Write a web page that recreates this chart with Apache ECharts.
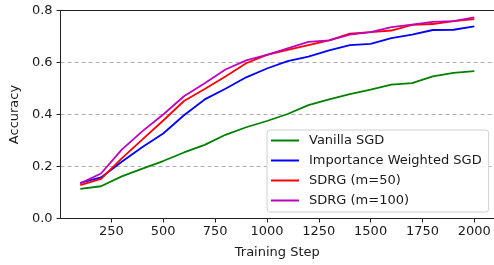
<!DOCTYPE html>
<html>
<head>
<meta charset="utf-8">
<script src="https://cdn.jsdelivr.net/npm/echarts@6/dist/echarts.min.js"></script>
<style>
  html, body { margin: 0; padding: 0; background: #fff; }
  #chart { width: 494px; height: 265px; }
</style>
</head>
<body>
<div id="chart"></div>
<script>
const steps = [100, 200, 300, 400, 500, 600, 700, 800, 900, 1000,
  1100, 1200, 1300, 1400, 1500, 1600, 1700, 1800, 1900, 2000]

const vanillaSgd = [0.114, 0.124, 0.162, 0.192, 0.221, 0.254, 0.283, 0.322, 0.351, 0.375,
  0.402, 0.436, 0.458, 0.478, 0.496, 0.515, 0.521, 0.547, 0.56, 0.567]
const importanceSgd = [0.137, 0.158, 0.218, 0.275, 0.327, 0.397, 0.458, 0.499, 0.543, 0.577,
  0.605, 0.623, 0.647, 0.667, 0.672, 0.694, 0.707, 0.725, 0.726, 0.739]
const sdrg50 = [0.128, 0.152, 0.231, 0.304, 0.377, 0.452, 0.498, 0.546, 0.597, 0.629,
  0.649, 0.667, 0.685, 0.711, 0.717, 0.723, 0.745, 0.748, 0.759, 0.767]
const sdrg100 = [0.135, 0.173, 0.265, 0.336, 0.4, 0.47, 0.52, 0.573, 0.608, 0.629,
  0.654, 0.679, 0.685, 0.707, 0.717, 0.736, 0.746, 0.756, 0.759, 0.774]

const xTicks = [250, 500, 750, 1000, 1250, 1500, 1750, 2000]

const seriesDefs = [
  { name: 'Vanilla SGD', data: vanillaSgd, color: '#008000' },
  { name: 'Importance Weighted SGD', data: importanceSgd, color: '#0000ff' },
  { name: 'SDRG (m=50)', data: sdrg50, color: '#ff0000' },
  { name: 'SDRG (m=100)', data: sdrg100, color: '#bf00bf' },
]

const font = 'DejaVu Sans'
const textColor = '#1a1a1a'
const fontSize = 13

const chart = echarts.init(document.getElementById('chart'), null, { renderer: 'canvas' })

chart.setOption({
  animation: false,
  textStyle: { fontFamily: font },
  grid: {
    left: 57,
    right: -1,
    top: 10.5,
    bottom: 46.5,
  },
  legend: {
    orient: 'vertical',
    left: 267,
    top: 130,
    padding: [4, 7, 5, 4],
    itemGap: 7,
    itemWidth: 28,
    itemHeight: 2,
    icon: 'rect',
    backgroundColor: 'rgba(255,255,255,0.85)',
    borderColor: '#d0d0d0',
    borderWidth: 1,
    borderRadius: 3,
    textStyle: { fontFamily: font, fontSize: fontSize, color: textColor, padding: [0, 0, 0, 5] },
    data: seriesDefs.map(s => s.name),
  },
  xAxis: [
    {
      type: 'value',
      min: 5,
      max: 2095,
      name: 'Training Step',
      nameLocation: 'middle',
      nameGap: 28,
      nameTextStyle: { fontFamily: font, fontSize: fontSize, color: textColor },
      axisLine: { show: true, lineStyle: { color: '#222', width: 1 } },
      axisTick: {
        show: true,
        length: 4,
        customValues: xTicks,
        lineStyle: { color: '#222' },
      },
      axisLabel: {
        customValues: xTicks,
        margin: 7,
        fontFamily: font,
        fontSize: fontSize,
        color: textColor,
        formatter: v => String(v),
      },
      splitLine: { show: false },
    },
    {
      // top spine
      type: 'value',
      position: 'top',
      min: 5,
      max: 2095,
      axisLine: { show: true, lineStyle: { color: '#222', width: 1 } },
      axisTick: { show: false },
      axisLabel: { show: false },
      splitLine: { show: false },
    },
  ],
  yAxis: {
    type: 'value',
    min: 0,
    max: 0.8,
    interval: 0.2,
    name: 'Accuracy',
    nameLocation: 'middle',
    nameGap: 39,
    nameTextStyle: { fontFamily: font, fontSize: fontSize, color: textColor },
    axisLine: { show: true, lineStyle: { color: '#222', width: 1 } },
    axisTick: { show: true, length: 4, lineStyle: { color: '#222' } },
    axisLabel: {
      margin: 8,
      fontFamily: font,
      fontSize: fontSize,
      color: textColor,
      formatter: v => v.toFixed(1),
    },
    splitLine: {
      show: true,
      lineStyle: { color: '#b0b0b0', type: [4, 3], width: 1 },
    },
  },
  series: seriesDefs.map(s => ({
    name: s.name,
    type: 'line',
    data: steps.map((x, i) => [x, s.data[i]]),
    showSymbol: false,
    symbol: 'none',
    lineStyle: { color: s.color, width: 1.8 },
    itemStyle: { color: s.color },
  })),
})
</script>
</body>
</html>
